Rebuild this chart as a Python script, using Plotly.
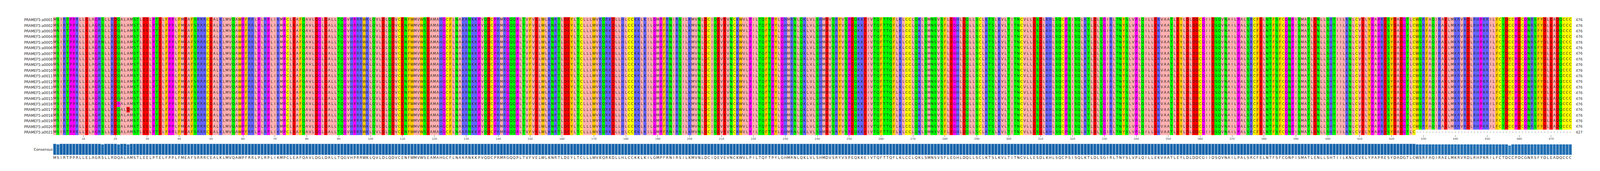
import plotly.graph_objects as go

names = [f"PRAMEF5:a{i:04d}" for i in range(1, 22)]
consensus = ("MSIRTPPRLLELAGRSLLRDQALAMSTLEELPTELFPPLFMEAFSRRRCEALKLMVQAWP"
             "FRRLPLRPLIKMPCLEAFQAVLDGLDALLTQGVHPRRWKLQVLDLQDVCENFWMVWSEAM"
             "AHGCFLNAKRNKKPVQDCPRMRGQQPLTVFVELWLKNRTLDEYLTCLLLWVKQRKDLLH"
             "LCCKKLKILGMPFRNIRSILKMVNLDCIQEVEVNCKWVLPILTQFTPYLGHMRNLQKLV"
             "LSHMDVSRYVSPEQKKEIVTQFTTQFLKLCCLQKLSMNSVSFLEGHLDQLLSCLKTSLKV"
             "LTITNCVLLESDLKHLSQCPSISQLKTLDLSGIRLTNYSLVPLQILLEKVAATLEYLDL"
             "DDCGIIDSQVNAILPALSRCFELNTFSFCGNPISMATLENLLSHTIILKNLCVELYPAPR"
             "ESYDADGTLCWSRFAQIRAELMKRVRDLRHPKRILFCTDCCPDCGNRSFYDLEADQCCC")
mutations = [(3, 2, "N"), (5, 16, "N"), (16, 21, "P"), (17, 24, "D"),
             (8, 457, "Y"), (14, 457, "Y")]
gap_rows = {21: (428, 476)}
lengths = [476] * 20 + [427]

groups = {"ILVAM": 0, "FWY": 1, "KRH": 2, "DE": 3, "STNQ": 4, "PG": 5, "C": 6, "-": 7}
colors = ["#ffafaf", "#ffc800", "#6464ff", "#ff0000", "#00ff00", "#ff00ff", "#ffff00", "#ffffff"]

def grp(c):
    for k, v in groups.items():
        if c in k:
            return v
    return 7

seqs = []
for r in range(1, 22):
    s = list(consensus)
    for (mr, mc, aa) in mutations:
        if mr == r:
            s[mc - 1] = aa
    if r in gap_rows:
        a, b = gap_rows[r]
        for c in range(a, b + 1):
            s[c - 1] = "-"
    seqs.append(s)

ncol = len(consensus)
cols = list(range(1, ncol + 1))
rows = list(range(1, 22))
z = [[grp(c) for c in s] for s in seqs]
cs = []
for i, c in enumerate(colors):
    cs.append([i / 8, c]); cs.append([(i + 1) / 8, c])

fig = go.Figure()
fig.add_trace(go.Heatmap(z=z, x=cols, y=rows, colorscale=cs, zmin=0, zmax=8,
                         showscale=False, hoverinfo="skip", xaxis="x", yaxis="y"))
tx, ty, tt = [], [], []
for r, s in zip(rows, seqs):
    for j, c in enumerate(s):
        tx.append(j + 1); ty.append(r); tt.append(c)
fig.add_trace(go.Scatter(x=tx, y=ty, text=tt, mode="text", hoverinfo="skip",
                         textfont=dict(family="DejaVu Sans", size=9, color="#222"),
                         xaxis="x", yaxis="y"))
cons = []
for j in range(ncol):
    colres = [s[j] for s in seqs]
    cons.append(sum(1 for c in colres if c == consensus[j]) / len(colres))
fig.add_trace(go.Bar(x=cols, y=cons, marker=dict(color=cons, colorscale="Blues", cmin=0.0, cmax=1.25,
                     line=dict(color="#e3ecf4", width=1)), width=1.0, hoverinfo="skip",
                     xaxis="x2", yaxis="y2"))

fig.update_layout(
    height=438, autosize=True, margin=dict(l=128, r=64, t=36, b=49),
    plot_bgcolor="white", paper_bgcolor="white", showlegend=False,
    font=dict(family="DejaVu Sans", color="#333"),
    xaxis=dict(domain=[0, 1], range=[0.5, ncol + 0.5], tickvals=list(range(10, ncol + 1, 10)),
               ticks="outside", ticklen=3, tickfont=dict(size=7, color="#444"), showgrid=False,
               zeroline=False, anchor="y", automargin=False),
    yaxis=dict(domain=[0.1445, 1.0], range=[21.5, 0.5], tickvals=rows, ticktext=names,
               tickfont=dict(size=9, color="#222"), showgrid=False, zeroline=False, automargin=False),
    xaxis2=dict(domain=[0, 1], range=[0.5, ncol + 0.5], tickvals=cols, ticktext=list(consensus),
                tickangle=0, tickfont=dict(family="DejaVu Sans", size=9, color="#222"), ticks="",
                showgrid=False, zeroline=False, anchor="y2", automargin=False),
    yaxis2=dict(domain=[0.0, 0.082], range=[0, 1], tickvals=[0.5], ticktext=["Consensus"],
                tickfont=dict(size=9, color="#222"), showgrid=False, zeroline=False,
                anchor="x2", automargin=False),
)

for r, L in zip(rows, lengths):
    fig.add_annotation(x=1, xshift=8, y=r, xref="paper", yref="y", text=str(L), showarrow=False,
                       xanchor="left", font=dict(size=9, color="#333"))

fig.write_html("out.html", default_width="100%", default_height="438px",
               config={"responsive": True})
